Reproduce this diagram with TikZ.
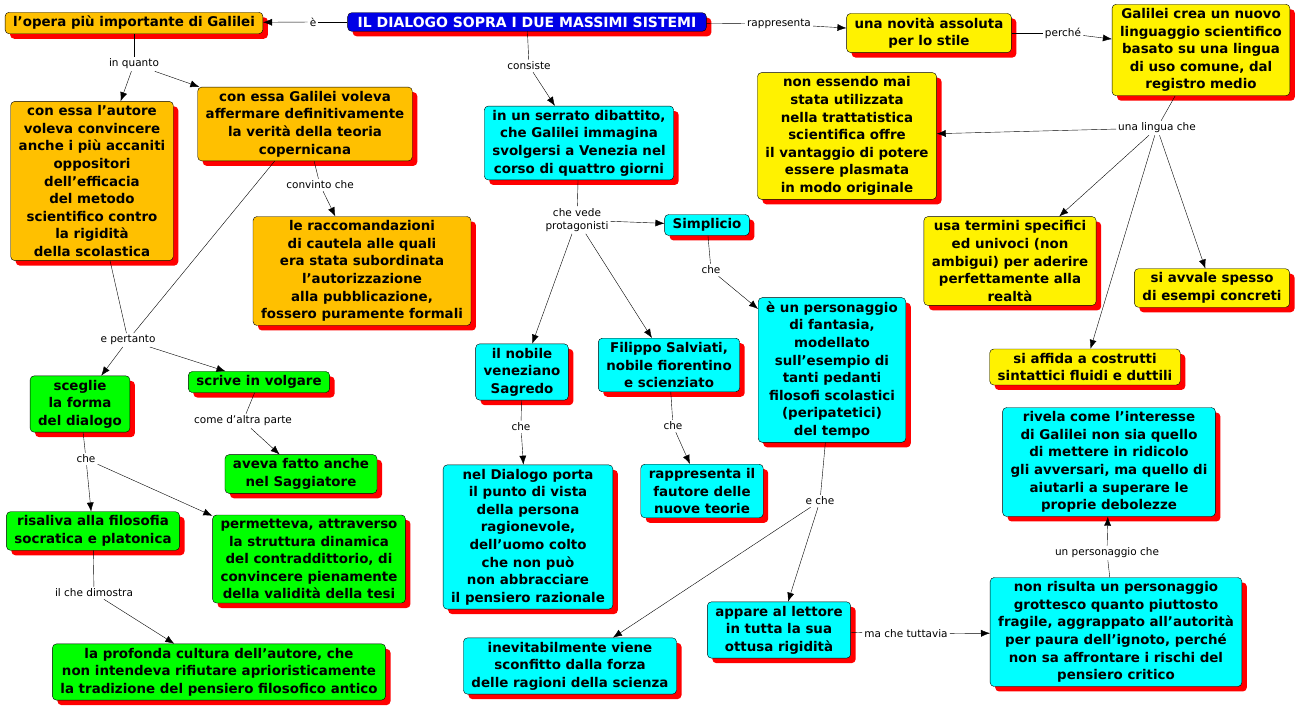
\documentclass[tikz,border=0pt]{standalone}
\usepackage{fontspec}
\setmainfont{DejaVu Sans}
\usetikzlibrary{shadows,arrows.meta}
\begin{document}
\begin{tikzpicture}[x=1pt,y=-1pt,
 box/.style={draw=black, rounded corners=4pt, align=center, inner xsep=8pt, inner ysep=4pt,
   font=\fontsize{13.4}{17.6}\selectfont\bfseries,
   drop shadow={fill=red, opacity=1, shadow xshift=5pt, shadow yshift=-5pt}},
 org/.style={box, fill=orgc}, yel/.style={box, fill=yellow}, cy/.style={box, fill=cyn}, gr/.style={box, fill=green},
 lbl/.style={align=center, inner sep=2pt, font=\fontsize{10.5}{13}\selectfont},
 ar/.style={-{Latex[length=9pt,width=7pt]}}]
\definecolor{orgc}{HTML}{FFC000}
\definecolor{cyn}{HTML}{00FFFF}
\useasboundingbox (0,0) rectangle (1301,710);
% nodes
\node[box, fill={rgb,255:red,0;green,0;blue,230}, text=white, inner xsep=10pt, font=\fontsize{14}{17.6}\selectfont\bfseries] (title) at (527,22) {IL DIALOGO SOPRA I DUE MASSIMI SISTEMI};
\node[org] (opera) at (134,23) {l'opera più importante di Galilei};
\node[yel] (novita) at (929,33) {una novità assoluta\\per lo stile};
\node[yel] (ling) at (1201,50) {Galilei crea un nuovo\\linguaggio scientifico\\basato su una lingua\\di uso comune, dal\\registro medio};
\node[org] (essa1) at (92,181) {con essa l'autore\\voleva convincere\\anche i più accaniti\\oppositori\\dell'efficacia\\del metodo\\scientifico contro\\la rigidità\\della scolastica};
\node[org] (essa2) at (305,124) {con essa Galilei voleva\\affermare definitivamente\\la verità della teoria\\copernicana};
\node[org] (racc) at (362,271) {le raccomandazioni\\di cautela alle quali\\era stata subordinata\\l'autorizzazione\\alla pubblicazione,\\fossero puramente formali};
\node[cy] (dib) at (579,143) {in un serrato dibattito,\\che Galilei immagina\\svolgersi a Venezia nel\\corso di quattro giorni};
\node[yel] (nonE) at (847,136) {non essendo mai\\stata utilizzata\\nella trattatistica\\scientifica offre\\il vantaggio di potere\\essere plasmata\\in modo originale};
\node[yel] (term) at (1010,261) {usa termini specifici\\ed univoci (non\\ambigui) per aderire\\perfettamente alla\\realtà};
\node[yel] (esem) at (1212,288) {si avvale spesso\\di esempi concreti};
\node[yel] (affi) at (1085,367) {si affida a costrutti\\sintattici fluidi e duttili};
\node[cy] (simp) at (707,225) {Simplicio};
\node[cy] (pers) at (832,370) {è un personaggio\\di fantasia,\\modellato\\sull'esempio di\\tanti pedanti\\filosofi scolastici\\(peripatetici)\\del tempo};
\node[cy] (sagr) at (522,372) {il nobile\\veneziano\\Sagredo};
\node[cy] (salv) at (669,365) {Filippo Salviati,\\nobile fiorentino\\e scienziato};
\node[cy] (dial) at (528,537) {nel Dialogo porta\\il punto di vista\\della persona\\ragionevole,\\dell'uomo colto\\che non può\\non abbracciare\\il pensiero razionale};
\node[cy] (faut) at (702,491) {rappresenta il\\fautore delle\\nuove teorie};
\node[gr] (sceg) at (80,404) {sceglie\\la forma\\del dialogo};
\node[gr] (volg) at (259,382) {scrive in volgare};
\node[gr] (sagg) at (301,474) {aveva fatto anche\\nel Saggiatore};
\node[gr] (socr) at (93,531) {risaliva alla filosofia\\socratica e platonica};
\node[gr] (perm) at (309,559) {permetteva, attraverso\\la struttura dinamica\\del contraddittorio, di\\convincere pienamente\\della validità della tesi};
\node[gr] (cult) at (219,672) {la profonda cultura dell'autore, che\\non intendeva rifiutare aprioristicamente\\la tradizione del pensiero filosofico antico};
\node[cy] (riv) at (1109,462) {rivela come l'interesse\\di Galilei non sia quello\\di mettere in ridicolo\\gli avversari, ma quello di\\aiutarli a superare le\\proprie debolezze};
\node[cy] (app) at (779,630) {appare al lettore\\in tutta la sua\\ottusa rigidità};
\node[cy] (inev) at (570,666) {inevitabilmente viene\\sconfitto dalla forza\\delle ragioni della scienza};
\node[cy] (grot) at (1116,632) {non risulta un personaggio\\grottesco quanto piuttosto\\fragile, aggrappato all'autorità\\per paura dell'ignoto, perché\\non sa affrontare i rischi del\\pensiero critico};
% labels
\node[lbl] (le) at (313,22) {è};
\node[lbl] (lrap) at (779,24) {rappresenta};
\node[lbl] (lper) at (1063,33) {perché};
\node[lbl] (lq) at (134,64) {in quanto};
\node[lbl] (lcons) at (529,66) {consiste};
\node[lbl] (llc) at (1157,128) {una lingua che};
\node[lbl] (lconv) at (320,185) {convinto che};
\node[lbl] (lvede) at (577,220) {che vede\\protagonisti};
\node[lbl] (lche1) at (711,270) {che};
\node[lbl] (lpert) at (128,340) {e pertanto};
\node[lbl] (lcome) at (243,421) {come d'altra parte};
\node[lbl] (lche2) at (521,427) {che};
\node[lbl] (lche3) at (673,426) {che};
\node[lbl] (lec) at (820,501) {e che};
\node[lbl] (lche4) at (86,459) {che};
\node[lbl] (ldim) at (94,593) {il che dimostra};
\node[lbl] (lpc) at (1107,553) {un personaggio che};
\node[lbl] (ltutt) at (906,634) {ma che tuttavia};
% connectors
\draw (title) -- (le); \draw[ar] (le) -- (opera);
\draw (title) -- (lrap); \draw[ar] (lrap) -- (novita);
\draw (novita) -- (lper); \draw[ar] (lper) -- (ling);
\draw (opera) -- (lq); \draw[ar] (lq) -- (essa1); \draw[ar] (lq) -- (essa2);
\draw (title) -- (lcons); \draw[ar] (lcons) -- (dib);
\draw (ling) -- (llc); \draw[ar] (llc) -- (nonE); \draw[ar] (llc) -- (term); \draw[ar] (llc) -- (esem); \draw[ar] (llc) -- (affi);
\draw (essa2) -- (lconv); \draw[ar] (lconv) -- (racc);
\draw (dib) -- (lvede); \draw[ar] (lvede) -- (simp); \draw[ar] (lvede) -- (sagr); \draw[ar] (lvede) -- (salv);
\draw (simp) -- (lche1); \draw[ar] (lche1) -- (pers);
\draw (essa1) -- (lpert); \draw (essa2) -- (lpert); \draw[ar] (lpert) -- (sceg); \draw[ar] (lpert) -- (volg);
\draw (volg) -- (lcome); \draw[ar] (lcome) -- (sagg);
\draw (sagr) -- (lche2); \draw[ar] (lche2) -- (dial);
\draw (salv) -- (lche3); \draw[ar] (lche3) -- (faut);
\draw (pers) -- (lec); \draw[ar] (lec) -- (app); \draw[ar] (lec) -- (inev);
\draw (sceg) -- (lche4); \draw[ar] (lche4) -- (socr); \draw[ar] (lche4) -- (perm);
\draw (socr) -- (ldim); \draw[ar] (ldim) -- (cult);
\draw (grot) -- (lpc); \draw[ar] (lpc) -- (riv);
\draw (app) -- (ltutt); \draw[ar] (ltutt) -- (grot);
\end{tikzpicture}
\end{document}
